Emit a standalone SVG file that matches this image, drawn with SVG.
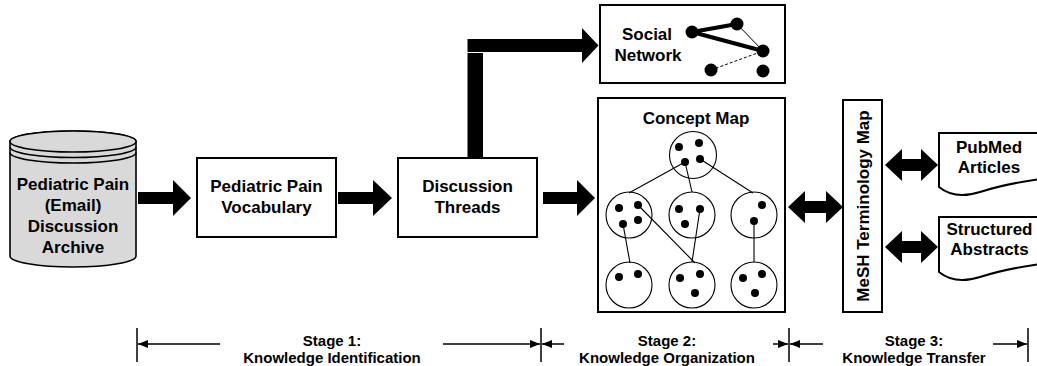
<svg xmlns="http://www.w3.org/2000/svg" width="1037" height="366" viewBox="0 0 1037 366">
<defs>
<style>
text{font-family:"Liberation Sans",Arial,sans-serif;font-weight:bold;fill:#000;text-anchor:middle}
.t17{font-size:17px}
.t15{font-size:15px}
.box{fill:#fff;stroke:#000;stroke-width:2}
.cyl{fill:#d9d9d9;stroke:#000;stroke-width:1.6}
.ring{fill:none;stroke:#000;stroke-width:1.6}
.big{fill:#000;stroke:none}
.circ{fill:#fff;stroke:#000;stroke-width:1.1}
.dot{fill:#000}
.ln{stroke:#000;stroke-width:1.1;fill:none}
.dim{stroke:#000;stroke-width:1.5;fill:none}
</style>
<marker id="ah" viewBox="0 0 10 8" refX="10" refY="4" markerWidth="10" markerHeight="8" markerUnits="userSpaceOnUse" orient="auto">
<path d="M0,0 L10,4 L0,8 Z" fill="#000"/>
</marker>
</defs>

<g id="archive">
<path class="cyl" d="M10,141.5 L10,256 A63,11 0 0 0 136,256 L136,141.5 A63,10.5 0 0 0 10,141.5 Z"/>
<ellipse class="cyl" cx="73" cy="141.5" rx="63" ry="10.5"/>
<path class="ring" d="M10,147 A63,10.5 0 0 0 136,147"/>
<path class="ring" d="M10,152.5 A63,10.5 0 0 0 136,152.5"/>
<text class="t17" x="73" y="190">Pediatric Pain</text>
<text class="t17" x="73" y="211">(Email)</text>
<text class="t17" x="73" y="232">Discussion</text>
<text class="t17" x="73" y="253">Archive</text>
</g>

<g id="vocabulary">
<rect class="box" x="197" y="158" width="139" height="79"/>
<text class="t17" x="266.5" y="192">Pediatric Pain</text>
<text class="t17" x="266.5" y="213">Vocabulary</text>
</g>

<g id="threads">
<rect class="box" x="398" y="158" width="139" height="79"/>
<text class="t17" x="467.5" y="192">Discussion</text>
<text class="t17" x="467.5" y="213">Threads</text>
</g>

<g id="social-network">
<rect class="box" x="600" y="5" width="185" height="78"/>
<text class="t17" x="647" y="40">Social</text>
<text class="t17" x="648" y="61">Network</text>
<line x1="692" y1="32" x2="737" y2="24" stroke="#000" stroke-width="4"/>
<line x1="692" y1="32" x2="763" y2="51" stroke="#000" stroke-width="4"/>
<line x1="737" y1="24" x2="763" y2="51" stroke="#000" stroke-width="1"/>
<line x1="711" y1="70" x2="763" y2="51" stroke="#000" stroke-width="1" stroke-dasharray="3,2"/>
<circle class="dot" cx="692" cy="32" r="6.5"/>
<circle class="dot" cx="737" cy="24" r="6.5"/>
<circle class="dot" cx="763" cy="51" r="6.5"/>
<circle class="dot" cx="711" cy="70" r="6.5"/>
<circle class="dot" cx="763" cy="71" r="6.5"/>
</g>

<g id="concept-map">
<rect class="box" x="598" y="98" width="187" height="214"/>
<text class="t17" x="696" y="124">Concept Map</text>
<circle class="circ" cx="693" cy="155" r="23.5"/>
<circle class="circ" cx="629" cy="215" r="23"/>
<circle class="circ" cx="692" cy="215" r="23"/>
<circle class="circ" cx="754" cy="215" r="23"/>
<circle class="circ" cx="629" cy="285" r="23"/>
<circle class="circ" cx="692" cy="285" r="23"/>
<circle class="circ" cx="754" cy="285" r="23"/>
<line class="ln" x1="685" y1="162" x2="629" y2="193"/>
<line class="ln" x1="685" y1="162" x2="692" y2="192"/>
<line class="ln" x1="700" y1="159" x2="753" y2="193"/>
<line class="ln" x1="623" y1="224" x2="630" y2="263"/>
<line class="ln" x1="638" y1="205" x2="695" y2="263"/>
<line class="ln" x1="700" y1="209" x2="692" y2="262"/>
<line class="ln" x1="754" y1="221" x2="754" y2="262"/>
<circle class="dot" cx="679" cy="147" r="4"/>
<circle class="dot" cx="699" cy="143" r="4"/>
<circle class="dot" cx="685" cy="162" r="4"/>
<circle class="dot" cx="700" cy="159" r="4"/>
<circle class="dot" cx="619" cy="208" r="4"/>
<circle class="dot" cx="638" cy="205" r="4"/>
<circle class="dot" cx="623" cy="224" r="4"/>
<circle class="dot" cx="638" cy="220" r="4"/>
<circle class="dot" cx="679" cy="209" r="4"/>
<circle class="dot" cx="700" cy="209" r="4"/>
<circle class="dot" cx="685" cy="224" r="4"/>
<circle class="dot" cx="762" cy="205" r="4"/>
<circle class="dot" cx="754" cy="221" r="4"/>
<circle class="dot" cx="619" cy="277" r="4"/>
<circle class="dot" cx="638" cy="274" r="4"/>
<circle class="dot" cx="680" cy="278" r="4"/>
<circle class="dot" cx="700" cy="274" r="4"/>
<circle class="dot" cx="695" cy="293" r="4"/>
<circle class="dot" cx="743" cy="278" r="4"/>
<circle class="dot" cx="762" cy="274" r="4"/>
<circle class="dot" cx="755" cy="293" r="4"/>
</g>

<g id="mesh">
<rect class="box" x="843" y="100" width="39" height="212"/>
<text class="t17" transform="translate(868.5,206) rotate(-90)" x="0" y="0">MeSH Terminology Map</text>
</g>

<g id="pubmed">
<path class="box" d="M939,133 L1040,133 L1040,179 Q1005,184 980,192 Q955,200 939,187 Z"/>
<text class="t17" x="989" y="153">PubMed</text>
<text class="t17" x="989" y="173">Articles</text>
</g>

<g id="abstracts">
<path class="box" d="M939,217 L1040,217 L1040,264 Q1005,269 980,277 Q955,285 939,272 Z"/>
<text class="t17" x="989.5" y="235">Structured</text>
<text class="t17" x="989.5" y="255">Abstracts</text>
</g>

<g id="connectors">
<polygon class="big" points="138,192 173,192 173,180 191,198 173,216 173,204 138,204"/>
<polygon class="big" points="338,192 373,192 373,180 392,198 373,216 373,204 338,204"/>
<polygon class="big" points="543,192 577,192 577,180 595,198 577,216 577,204 543,204"/>
<rect class="big" x="467.5" y="53" width="15.5" height="105"/>
<polygon class="big" points="467.5,39 582,39 582,28 598.5,45.5 582,63 582,52 467.5,52"/>
<polygon class="big" points="788,207 805,191 805,201 826,201 826,191 843,207 826,223 826,213 805,213 805,223"/>
<polygon class="big" points="885,165 902,149 902,159 921,159 921,149 938,165 921,181 921,171 902,171 902,181"/>
<polygon class="big" points="885,247 902,231 902,241 921,241 921,231 938,247 921,263 921,253 902,253 902,263"/>
</g>

<g id="stages">
<line class="dim" x1="137" y1="328" x2="137" y2="362"/>
<line class="dim" x1="541" y1="328" x2="541" y2="362"/>
<line class="dim" x1="789" y1="328" x2="789" y2="362"/>
<line class="dim" x1="1028" y1="328" x2="1028" y2="362"/>
<line class="dim" x1="220" y1="344" x2="138" y2="344" marker-end="url(#ah)"/>
<line class="dim" x1="443" y1="344" x2="540" y2="344" marker-end="url(#ah)"/>
<line class="dim" x1="564" y1="344" x2="542" y2="344" marker-end="url(#ah)"/>
<line class="dim" x1="773" y1="344" x2="788" y2="344" marker-end="url(#ah)"/>
<line class="dim" x1="823" y1="344" x2="790" y2="344" marker-end="url(#ah)"/>
<line class="dim" x1="993" y1="344" x2="1027" y2="344" marker-end="url(#ah)"/>
<text class="t15" x="332" y="345.5">Stage 1:</text>
<text class="t15" x="332" y="362.5">Knowledge Identification</text>
<text class="t15" x="667" y="345.5">Stage 2:</text>
<text class="t15" x="667" y="362.5">Knowledge Organization</text>
<text class="t15" x="914" y="345.5">Stage 3:</text>
<text class="t15" x="914" y="362.5">Knowledge Transfer</text>
</g>
</svg>
